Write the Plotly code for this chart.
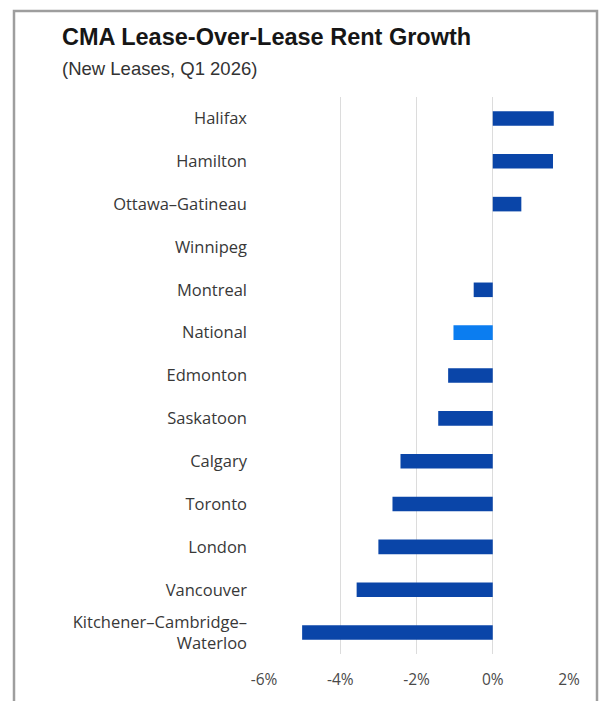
import plotly.graph_objects as go

# Census metropolitan areas, top to bottom
cities = [
    "Halifax", "Hamilton", "Ottawa–Gatineau", "Winnipeg", "Montreal",
    "National", "Edmonton", "Saskatoon", "Calgary", "Toronto",
    "London", "Vancouver", "Kitchener–Cambridge–<br>Waterloo",
]
# Lease-over-lease rent growth on new leases, %
growth = [1.6, 1.58, 0.75, 0.0, -0.5, -1.03, -1.17, -1.43, -2.42, -2.63, -3.0, -3.57, -5.0]

x_ticks = [-6, -4, -2, 0, 2]
x_tick_labels = ["-6%", "-4%", "-2%", "0%", "2%"]

DARK_BLUE = "#0A45A8"
LIGHT_BLUE = "#0B7DF0"
bar_colors = [LIGHT_BLUE if c == "National" else DARK_BLUE for c in cities]

W, H = 604, 701
ML, MR, MT, MB = 264, 35, 97, 47
PW, PH = W - ML - MR, H - MT - MB


def px(x):
    return (x - ML) / PW


def py(y):
    return 1 - (y - MT) / PH


fig = go.Figure(
    go.Bar(
        x=growth,
        y=cities,
        orientation="h",
        marker=dict(color=bar_colors, line=dict(width=0)),
        width=0.34,
        hoverinfo="skip",
    )
)

fig.update_layout(
    width=W,
    height=H,
    margin=dict(l=ML, r=MR, t=MT, b=MB),
    paper_bgcolor="white",
    plot_bgcolor="white",
    showlegend=False,
    font=dict(family="Open Sans, sans-serif", color="#3a3a3a"),
    xaxis=dict(
        range=[-6, 2],
        tickvals=x_ticks,
        ticktext=x_tick_labels,
        showgrid=True,
        gridcolor="#dcdcdc",
        gridwidth=1,
        zeroline=True,
        zerolinecolor="#dcdcdc",
        zerolinewidth=1,
        showline=False,
        ticks="",
        ticklabelstandoff=14,
        tickfont=dict(size=15.5, color="#4a4a4a"),
        fixedrange=True,
    ),
    yaxis=dict(
        autorange="reversed",
        showgrid=False,
        zeroline=False,
        showline=False,
        ticks="",
        ticklabelstandoff=16,
        tickfont=dict(size=16.5, color="#383838"),
        fixedrange=True,
    ),
    annotations=[
        dict(
            text="<b>CMA Lease-Over-Lease Rent Growth</b>",
            x=px(60), y=py(37), xref="paper", yref="paper",
            xanchor="left", yanchor="middle", showarrow=False,
            font=dict(family="Liberation Sans, Arial, sans-serif",
                      size=23.5, color="#161616"),
        ),
        dict(
            text="(New Leases, Q1 2026)",
            x=px(60), y=py(68), xref="paper", yref="paper",
            xanchor="left", yanchor="middle", showarrow=False,
            font=dict(family="Liberation Sans, Arial, sans-serif",
                      size=18.5, color="#333333"),
        ),
    ],
    shapes=[
        dict(
            type="rect", xref="paper", yref="paper",
            x0=px(14), x1=px(597), y0=py(11), y1=py(710),
            line=dict(color="#9e9e9e", width=2.5),
            fillcolor="rgba(0,0,0,0)", layer="below",
        )
    ],
)

fig.write_html("out.html", config={"displayModeBar": False})
